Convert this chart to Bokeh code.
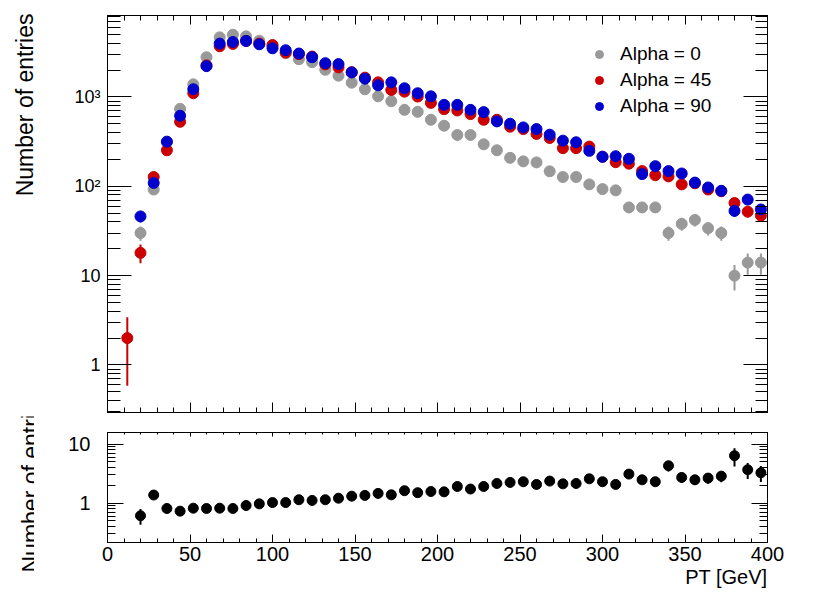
import math
from bokeh.plotting import figure
from bokeh.layouts import column, row
from bokeh.models import (FixedTicker, LinearAxis, LogAxis, Range1d, Label,
                          Legend, LegendItem, ColumnDataSource, Title)
from bokeh.embed import file_html
from bokeh.resources import INLINE

# ---------------- data ----------------
pt_bin_centers = [4, 12, 20, 28, 36, 44, 52, 60, 68, 76, 84, 92, 100, 108, 116,
                  124, 132, 140, 148, 156, 164, 172, 180, 188, 196, 204, 212,
                  220, 228, 236, 244, 252, 260, 268, 276, 284, 292, 300, 308,
                  316, 324, 332, 340, 348, 356, 364, 372, 380, 388, 396]

entries_alpha0 = [0, 0, 30, 92, 312, 735, 1383, 2783, 4640, 4970, 4760, 4260,
                  3735, 3080, 2640, 2450, 2013, 1730, 1442, 1218, 1017, 895,
                  717, 681, 555, 476, 375, 375, 295, 253, 208, 190, 185, 147,
                  127, 127, 105, 93, 90, 58, 58, 58, 30, 38, 42, 34, 30, 10,
                  14, 14]

entries_alpha45 = [0, 2, 18, 127, 253, 527, 1100, 2254, 3690, 3920, 4230, 3950,
                   3810, 3140, 3010, 2830, 2310, 2140, 1889, 1644, 1456, 1196,
                   1145, 1010, 858, 729, 705, 642, 555, 555, 464, 437, 385,
                   347, 267, 267, 278, 214, 186, 179, 148, 133, 129, 105, 108,
                   92, 88, 65, 52, 47]

entries_alpha90 = [0, 0, 46, 109, 316, 615, 1219, 2210, 3950, 4120, 4230, 3880,
                   3500, 3330, 3060, 2780, 2387, 2330, 1880, 1600, 1350, 1455,
                   1250, 1100, 1016, 815, 815, 717, 676, 532, 501, 456, 437,
                   378, 324, 311, 249, 214, 217, 203, 137, 168, 148, 139, 110,
                   97, 89, 53, 71, 55]

ratio_alpha45_alpha0 = [None, None, 0.61, 1.37, 0.81, 0.73, 0.82, 0.81, 0.82,
                        0.81, 0.91, 0.97, 1.02, 1.02, 1.14, 1.11, 1.14, 1.21,
                        1.31, 1.35, 1.46, 1.38, 1.62, 1.50, 1.57, 1.55, 1.91,
                        1.73, 1.91, 2.15, 2.24, 2.30, 2.07, 2.36, 2.12, 2.15,
                        2.58, 2.30, 2.07, 3.10, 2.48, 2.30, 4.29, 2.72, 2.48,
                        2.65, 2.86, 6.34, 3.67, 3.26]

series_labels = ["Alpha = 0", "Alpha = 45", "Alpha = 90"]
series_colors = ["#999999", "#cc0000", "#0000cc"]

x_major_ticks = [0, 50, 100, 150, 200, 250, 300, 350, 400]
top_y_tick_values = [1, 10, 100, 1000]
top_y_tick_labels = ["1", "10", "10\u00b2", "10\u00b3"]
bottom_y_tick_values = [1, 10]
bottom_y_tick_labels = ["1", "10"]

x_title = "PT [GeV]"
y_title = "Number of entries"

FONT = "Liberation Sans"
TITLE_W = 34
H1, H2 = 416, 180

# ---------------- helpers ----------------
def hist_source(counts):
    xs, ys, lo, hi = [], [], [], []
    for x, n in zip(pt_bin_centers, counts):
        if n > 0:
            e = math.sqrt(n)
            xs.append(x); ys.append(n); lo.append(n - e); hi.append(n + e)
    return ColumnDataSource(dict(x=xs, y=ys, lo=lo, hi=hi))


def ratio_source():
    xs, ys, lo, hi = [], [], [], []
    for x, r, a, b in zip(pt_bin_centers, ratio_alpha45_alpha0,
                          entries_alpha45, entries_alpha0):
        if r is not None and a > 0 and b > 0:
            e = r * math.sqrt(1.0 / a + 1.0 / b)
            xs.append(x); ys.append(r); lo.append(r - e); hi.append(r + e)
    return ColumnDataSource(dict(x=xs, y=ys, lo=lo, hi=hi))


def log_minor(lo, hi):
    out = []
    for k in range(-2, 5):
        for m in range(2, 10):
            v = m * 10 ** k
            if lo <= v <= hi:
                out.append(v)
    return out


def style_axis(ax, major_in, minor_in, label_px, standoff, show=True):
    ax.major_tick_in = major_in
    ax.major_tick_out = 0
    ax.minor_tick_in = minor_in
    ax.minor_tick_out = 0
    ax.axis_line_color = "black"
    ax.axis_line_width = 1
    ax.major_tick_line_color = "black"
    ax.minor_tick_line_color = "black"
    ax.major_label_text_font = FONT
    if show:
        ax.major_label_text_color = "black"
        ax.major_label_text_font_size = f"{label_px}px"
        ax.major_label_standoff = standoff
    else:
        ax.major_label_text_color = None
        ax.major_label_text_font_size = "2px"
        ax.major_label_standoff = 0
    ax.axis_label = None


def title_strip(height, x, y, align):
    t = figure(width=TITLE_W, height=height, x_range=Range1d(0, 1),
               y_range=Range1d(0, 1), x_axis_location=None,
               y_axis_location=None, toolbar_location=None,
               output_backend="svg", min_border=0, outline_line_color=None,
               background_fill_color="white", border_fill_color="white")
    try:
        t.frame_align = False
    except Exception:
        pass
    t.grid.visible = False
    t.add_layout(Label(x=x, y=y, x_units="screen", y_units="screen",
                       text=y_title, angle=math.pi / 2, text_align=align,
                       text_baseline="alphabetic", text_font=FONT,
                       text_font_size="23px", text_color="black"))
    return t


x_ticker = FixedTicker(ticks=x_major_ticks, minor_ticks=list(range(0, 401, 10)))

# ---------------- top panel ----------------
top_ylo, top_yhi = 0.294, 8150
p1 = figure(width=828 - TITLE_W, height=H1, x_range=Range1d(0, 400),
            y_range=Range1d(top_ylo, top_yhi), y_axis_type="log",
            output_backend="svg", toolbar_location=None,
            min_border_left=107 - TITLE_W, min_border_right=61,
            min_border_top=15, min_border_bottom=4,
            background_fill_color="white", border_fill_color="white",
            outline_line_color="black")
p1.grid.visible = False

top_y_ticker = FixedTicker(ticks=top_y_tick_values,
                           minor_ticks=log_minor(top_ylo, top_yhi))
p1.yaxis[0].ticker = top_y_ticker
p1.yaxis[0].major_label_overrides = dict(zip(top_y_tick_values, top_y_tick_labels))
style_axis(p1.yaxis[0], 24, 13, 18, 7)
p1.xaxis[0].ticker = x_ticker
style_axis(p1.xaxis[0], 10, 5, 0, 0, show=False)

ax_top = LinearAxis(ticker=x_ticker)
style_axis(ax_top, 9, 5, 0, 0, show=False)
p1.add_layout(ax_top, "above")
ax_right = LogAxis(ticker=top_y_ticker)
style_axis(ax_right, 24, 12, 0, 0, show=False)
p1.add_layout(ax_right, "right")

renderers = []
for counts, color in zip([entries_alpha0, entries_alpha45, entries_alpha90],
                         series_colors):
    src = hist_source(counts)
    p1.segment(x0="x", y0="lo", x1="x", y1="hi", source=src,
               line_color=color, line_width=2)
    r = p1.scatter(x="x", y="y", source=src, size=11, marker="circle",
                   fill_color=color, line_color=color)
    renderers.append(r)

legend = Legend(items=[LegendItem(label=lab, renderers=[r])
                       for lab, r in zip(series_labels, renderers)],
                location=(482, 293), orientation="vertical",
                border_line_color=None, background_fill_alpha=0,
                padding=0, margin=0, spacing=0,
                glyph_width=20, glyph_height=26, label_height=26,
                label_standoff=11, label_text_font=FONT,
                label_text_font_size="19px", label_text_color="black")
p1.add_layout(legend)

# ---------------- bottom panel ----------------
bot_ylo, bot_yhi = 0.215, 15.7
p2 = figure(width=828 - TITLE_W, height=H2, x_range=p1.x_range,
            y_range=Range1d(bot_ylo, bot_yhi), y_axis_type="log",
            output_backend="svg", toolbar_location=None,
            min_border_left=107 - TITLE_W, min_border_right=61,
            min_border_top=16, min_border_bottom=H2 - 16 - 110,
            background_fill_color="white", border_fill_color="white",
            outline_line_color="black")
p2.grid.visible = False

bot_y_ticker = FixedTicker(ticks=bottom_y_tick_values,
                           minor_ticks=log_minor(bot_ylo, bot_yhi))
p2.yaxis[0].ticker = bot_y_ticker
p2.yaxis[0].major_label_overrides = dict(zip(bottom_y_tick_values, bottom_y_tick_labels))
style_axis(p2.yaxis[0], 16, 8, 20, 17)
p2.xaxis[0].ticker = x_ticker
style_axis(p2.xaxis[0], 8, 4, 20, 4)

ax_top2 = LinearAxis(ticker=x_ticker)
style_axis(ax_top2, 4, 2, 0, 0, show=False)
p2.add_layout(ax_top2, "above")
ax_right2 = LogAxis(ticker=bot_y_ticker)
style_axis(ax_right2, 16, 8, 0, 0, show=False)
p2.add_layout(ax_right2, "right")

rsrc = ratio_source()
p2.segment(x0="x", y0="lo", x1="x", y1="hi", source=rsrc,
           line_color="black", line_width=2)
p2.scatter(x="x", y="y", source=rsrc, size=10, marker="circle",
           fill_color="black", line_color="black")

p2.add_layout(Title(text=x_title, align="right", vertical_align="top",
                    standoff=4, text_font=FONT, text_font_size="20px",
                    text_font_style="normal", text_color="black"), "below")

# ---------------- y titles in narrow strips ----------------
t1 = title_strip(H1, 24, H1 - 13, "right")
t2 = title_strip(H2, 30.5, (H1 + H2) - 572, "left")

layout = column(row(t1, p1, spacing=0), row(t2, p2, spacing=0), spacing=0)
open("out.html", "w").write(file_html(layout, INLINE))
